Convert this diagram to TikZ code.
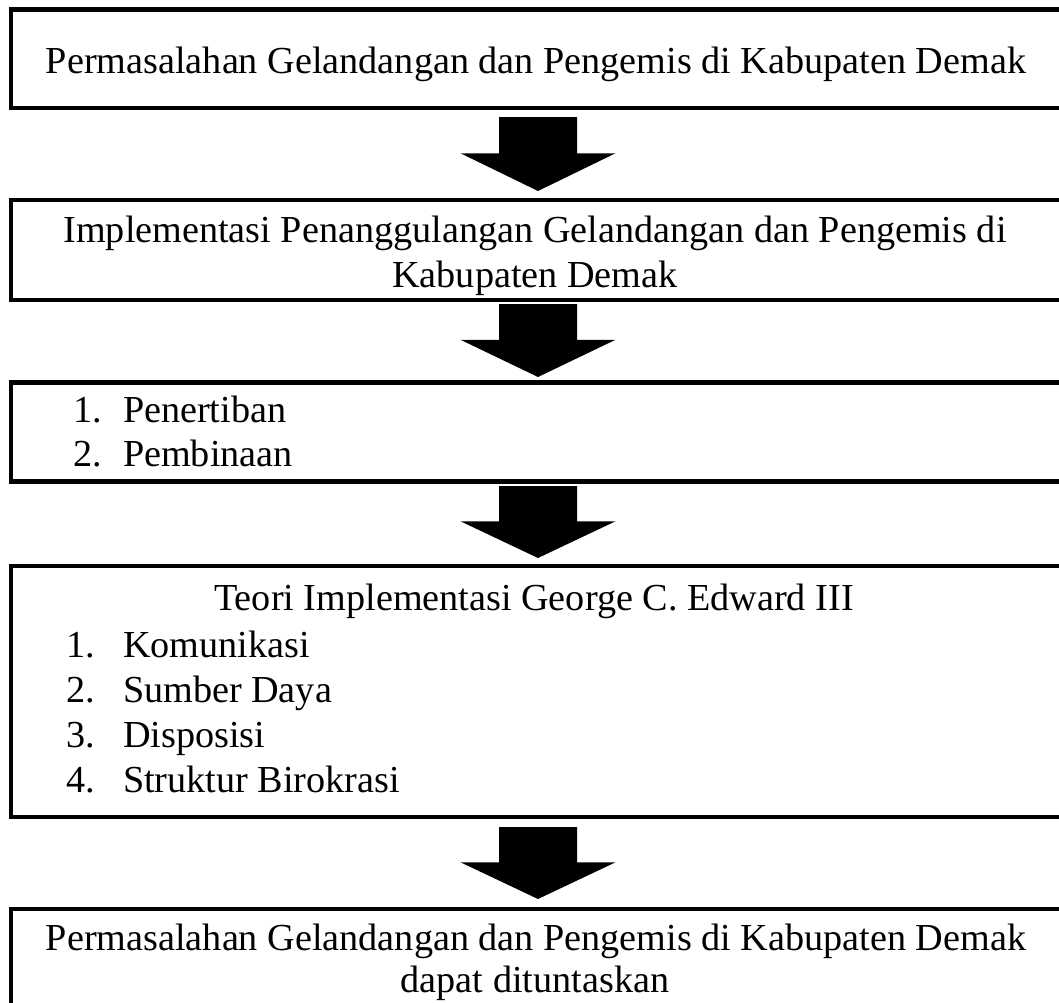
\documentclass[tikz,border=0pt]{standalone}
\usepackage{fontspec}
\setmainfont{Liberation Serif}
\usetikzlibrary{calc}
\newcommand\blockarrow[4]{%
  \fill[black] let \p1=($(#1.south)+(0,#2)$), \p2=($(#3.north)+(0,-#4)$),
    \n1={0.51*\y1+0.49*\y2} in
    (\x1-39pt,\y1) -- (\x1+39pt,\y1) -- (\x1+39pt,\n1*1pt) -- (\x1+77.5pt,\n1*1pt)
    -- (\x1,\y2) -- (\x1-77.5pt,\n1*1pt) -- (\x1-39pt,\n1*1pt) -- cycle;}
\begin{document}
\begin{tikzpicture}[x=1pt,y=-1pt,
  box/.style={draw=black, line width=4.5pt, minimum width=1054pt, inner sep=0pt, outer sep=0pt},
  txt/.style={anchor=base, inner sep=0pt, outer sep=0pt, font=\fontsize{38.2}{45}\selectfont},
  num/.style={txt, anchor=base west},
]
\useasboundingbox (0,0) rectangle (1059,1002);
\clip (0,0) rectangle (1059,1002);
\fill[white] (0,0) rectangle (1059,1002);
% boxes
\node[box, minimum height=98.5pt] (b1) at (538,58.75) {};
\node[box, minimum height=100pt] (b2) at (538,250) {};
\node[box, minimum height=99pt] (b3) at (538,432) {};
\node[box, minimum height=251pt] (b4) at (538,691.5) {};
\node[box, minimum height=106pt] (b5) at (538,962) {};
% texts
\node[txt] (t1) at (536,73) {Permasalahan Gelandangan dan Pengemis di Kabupaten Demak};
\node[txt] (t2a) at (535,242) {Implementasi Penanggulangan Gelandangan dan Pengemis di};
\node[txt] (t2b) at (535,287) {Kabupaten Demak};
\node[num] (n3a) at (73,422) {1.};
\node[num] (t3a) at (123,422) {Penertiban};
\node[num] (n3b) at (73,466) {2.};
\node[num] (t3b) at (123,466) {Pembinaan};
\node[txt] (t4) at (534,610) {Teori Implementasi George C. Edward III};
\node[num] (n4a) at (66,657) {1.};
\node[num] (t4a) at (123,657) {Komunikasi};
\node[num] (n4b) at (66,702) {2.};
\node[num] (t4b) at (123,702) {Sumber Daya};
\node[num] (n4c) at (66,747) {3.};
\node[num] (t4c) at (123,747) {Disposisi};
\node[num] (n4d) at (66,792) {4.};
\node[num] (t4d) at (123,792) {Struktur Birokrasi};
\node[txt] (t5a) at (536,950) {Permasalahan Gelandangan dan Pengemis di Kabupaten Demak};
\node[txt] (t5b) at (535,992) {dapat dituntaskan};
% block arrows
\blockarrow{b1}{9}{b2}{9}
\blockarrow{b2}{4}{b3}{5.5}
\blockarrow{b3}{4.5}{b4}{8}
\blockarrow{b4}{10}{b5}{10}
\end{tikzpicture}
\end{document}
